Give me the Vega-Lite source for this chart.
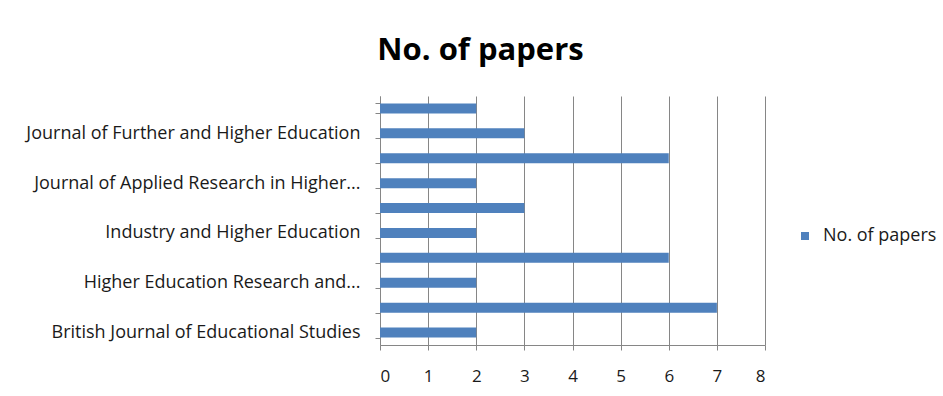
{
  "$schema": "https://vega.github.io/schema/vega-lite/v6.json",
  "autosize": "none",
  "width": 385,
  "height": 249,
  "padding": {"left": 380, "top": 96, "right": 178, "bottom": 51},
  "background": "white",
  "title": {
    "text": "No. of papers",
    "font": "Open Sans",
    "fontSize": 31,
    "fontWeight": "bold",
    "color": "#000000",
    "anchor": "middle",
    "dx": -92,
    "offset": 20
  },
  "data": {
    "values": [
      {"journal": "British Journal of Educational Studies", "papers": 2},
      {"journal": "Education + Training", "papers": 7},
      {"journal": "Higher Education Research and Development", "papers": 2},
      {"journal": "Higher Education, Skills and Work-Based Learning", "papers": 6},
      {"journal": "Industry and Higher Education", "papers": 2},
      {"journal": "International Journal of Educational Management", "papers": 3},
      {"journal": "Journal of Applied Research in Higher Education", "papers": 2},
      {"journal": "Journal of Education and Work", "papers": 6},
      {"journal": "Journal of Further and Higher Education", "papers": 3},
      {"journal": "Studies in Higher Education", "papers": 2}
    ]
  },
  "mark": {"type": "bar"},
  "encoding": {
    "y": {
      "field": "journal",
      "type": "nominal",
      "sort": "descending",
      "title": null,
      "scale": {"paddingInner": 0.6, "paddingOuter": 0.3},
      "axis": {
        "labelExpr": "round(datum.index*9)%2==0 ? '' : (length(datum.label)>40 ? replace(datum.label, / \\S+$/, '...') : datum.label)",
        "labelFont": "Open Sans",
        "labelFontSize": 18,
        "labelColor": "#1a1a1a",
        "labelPadding": 15,
        "labelLimit": 400,
        "tickSize": 5,
        "tickBand": "extent",
        "tickColor": "#868686",
        "domainColor": "#868686",
        "grid": false
      }
    },
    "x": {
      "field": "papers",
      "type": "quantitative",
      "title": null,
      "scale": {"domain": [0, 8], "nice": false},
      "axis": {
        "values": [0, 1, 2, 3, 4, 5, 6, 7, 8],
        "labelFont": "Open Sans",
        "labelFontSize": 17,
        "labelColor": "#1a1a1a",
        "labelPadding": 18,
        "tickSize": 5,
        "tickColor": "#868686",
        "domainColor": "#868686",
        "grid": true,
        "gridColor": "#868686"
      }
    },
    "color": {
      "datum": "No. of papers",
      "scale": {"range": ["#4F81BD"]},
      "legend": {
        "title": null,
        "orient": "none",
        "legendX": 416,
        "legendY": 131,
        "padding": 0,
        "symbolType": "square",
        "symbolSize": 64,
        "symbolStrokeWidth": 0,
        "labelFont": "Open Sans",
        "labelFontSize": 18,
        "labelOffset": 9,
        "labelColor": "#1a1a1a"
      }
    }
  },
  "config": {"view": {"stroke": null}}
}
